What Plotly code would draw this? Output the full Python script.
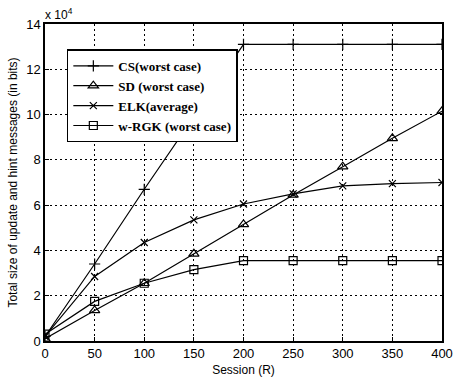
import plotly.graph_objects as go

sessions = [0, 50, 100, 150, 200, 250, 300, 350, 400]
cs = [0.2, 3.4, 6.7, 9.9, 13.1, 13.1, 13.1, 13.1, 13.1]
sd = [0.1, 1.35, 2.55, 3.85, 5.15, 6.45, 7.7, 8.95, 10.15]
elk = [0.2, 2.85, 4.35, 5.35, 6.05, 6.5, 6.85, 6.95, 7.0]
wrgk = [0.3, 1.75, 2.55, 3.15, 3.55, 3.55, 3.55, 3.55, 3.55]

names = ["CS(worst case)", "SD (worst case)", "ELK(average)", "w-RGK (worst case)"]
series = [cs, sd, elk, wrgk]
symbols = ["cross-thin-open", "triangle-up-open", "x-thin-open", "square-open"]
sizes = [8, 9, 7, 8]

fig = go.Figure()
for nm, ys, sym, sz in zip(names, series, symbols, sizes):
    fig.add_trace(go.Scatter(
        x=sessions, y=ys, name=nm, mode="lines+markers",
        line=dict(color="black", width=1.2),
        marker=dict(symbol=sym, size=sz, color="black",
                    line=dict(color="black", width=1.2)),
    ))

axis_common = dict(
    showline=True, linecolor="black", linewidth=1.5, mirror=True,
    ticks="inside", ticklen=4, tickcolor="black",
    showgrid=True, gridcolor="black", griddash="2px,3px", gridwidth=1.2,
    zeroline=False, automargin=False,
    tickfont=dict(family="Liberation Sans, Arial", size=13, color="black"),
)

fig.update_layout(
    width=453, height=377,
    margin=dict(l=45, r=11, t=24, b=36),
    paper_bgcolor="white", plot_bgcolor="white",
    xaxis=dict(range=[0, 400], tickvals=[0, 50, 100, 150, 200, 250, 300, 350, 400],
               title=dict(text="Session (R)", standoff=6,
                          font=dict(family="Liberation Sans, Arial", size=12, color="black")),
               **axis_common),
    yaxis=dict(range=[0, 14], tickvals=[0, 2, 4, 6, 8, 10, 12, 14],
               title=dict(text="Total size of update and hint messages (in bits)", standoff=6,
                          font=dict(family="Liberation Sans, Arial", size=12, color="black")),
               **axis_common),
    legend=dict(
        x=0.055, y=0.92, xanchor="left", yanchor="top",
        bgcolor="white", bordercolor="black", borderwidth=1.5,
        font=dict(family="Liberation Serif, Times New Roman", size=13, color="black", weight="bold"),
        tracegroupgap=0, itemwidth=40,
    ),
    showlegend=True,
    annotations=[dict(
        x=0, y=1.0, xref="paper", yref="paper", xanchor="left", yanchor="bottom",
        text="x 10<sup>4</sup>", showarrow=False, xshift=-2, yshift=0,
        font=dict(family="Liberation Sans, Arial", size=12, color="black"),
    )],
)

fig.write_html("out.html")
